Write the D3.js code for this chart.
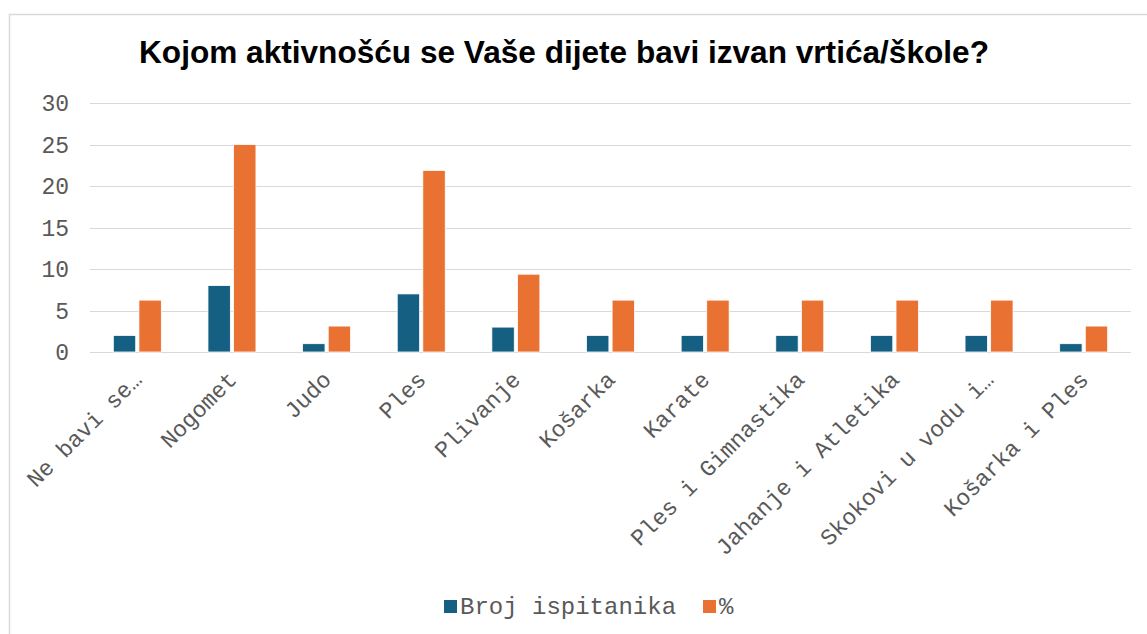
<!DOCTYPE html>
<html>
<head>
<meta charset="utf-8">
<script src="https://cdn.jsdelivr.net/npm/d3@7"></script>
<style>
  body { margin: 0; background: #fff; }
  svg { display: block; }
</style>
</head>
<body>
<div id="wrapper"></div>
<script>
const categories = ["Ne bavi se…", "Nogomet", "Judo", "Ples", "Plivanje", "Košarka", "Karate",
  "Ples i Gimnastika", "Jahanje i Atletika", "Skokovi u vodu i…", "Košarka i Ples"];
const brojIspitanika = [2, 8, 1, 7, 3, 2, 2, 2, 2, 2, 1];
const postotak = [6.25, 25, 3.125, 21.875, 9.375, 6.25, 6.25, 6.25, 6.25, 6.25, 3.125];
const seriesNames = ["Broj ispitanika", "%"];
const yTicks = [0, 5, 10, 15, 20, 25, 30];

function drawChart() {
  const width = 1147, height = 634;
  const colors = ["#156082", "#E97132"];
  const mono = "'Liberation Mono', 'Courier New', monospace";

  const svg = d3.select("#wrapper").append("svg")
    .attr("width", width)
    .attr("height", height);

  // chart frame
  svg.append("rect")
    .attr("x", 9.5).attr("y", 14.5)
    .attr("width", width + 20).attr("height", height + 20)
    .attr("fill", "#fff")
    .attr("stroke", "#d9d9d9")
    .attr("stroke-width", 1.5);

  svg.append("text")
    .attr("x", 564).attr("y", 63)
    .attr("text-anchor", "middle")
    .style("font-family", "'Liberation Sans', Arial, sans-serif")
    .style("font-weight", "bold")
    .style("font-size", "31.6px")
    .attr("fill", "#000")
    .text("Kojom aktivnošću se Vaše dijete bavi izvan vrtića/škole?");

  const plot = { left: 90, right: 1131, top: 103, bottom: 352 };

  const x = d3.scaleBand()
    .domain(categories)
    .range([plot.left, plot.right]);

  const y = d3.scaleLinear()
    .domain([0, 30])
    .range([plot.bottom, plot.top]);

  const xSub = d3.scaleBand()
    .domain(seriesNames)
    .range([x.bandwidth() / 2 - 24, x.bandwidth() / 2 + 24])
    .paddingInner(0.125);

  // gridlines
  svg.append("g")
    .selectAll("line")
    .data(yTicks)
    .join("line")
      .attr("x1", plot.left).attr("x2", plot.right)
      .attr("y1", d => Math.round(y(d)) + 0.5)
      .attr("y2", d => Math.round(y(d)) + 0.5)
      .attr("stroke", "#d9d9d9")
      .attr("stroke-width", 1.2);

  // y labels
  svg.append("g")
    .selectAll("text")
    .data(yTicks)
    .join("text")
      .attr("x", 69)
      .attr("y", d => y(d) + 8)
      .attr("text-anchor", "end")
      .style("font-family", mono)
      .style("font-size", "23px")
      .attr("fill", "#595959")
      .text(d => d);

  const rows = categories.map((c, i) => ({ cat: c, vals: [brojIspitanika[i], postotak[i]] }));

  const groups = svg.append("g")
    .selectAll("g")
    .data(rows)
    .join("g")
      .attr("transform", d => `translate(${x(d.cat)},0)`);

  groups.selectAll("rect")
    .data(d => d.vals.map((v, k) => ({ key: seriesNames[k], v, k })))
    .join("rect")
      .attr("x", d => xSub(d.key))
      .attr("y", d => y(d.v))
      .attr("width", xSub.bandwidth())
      .attr("height", d => y(0) - y(d.v))
      .attr("fill", d => colors[d.k])
      .attr("stroke", "#fff")
      .attr("stroke-width", 0.8);

  // x labels
  svg.append("g")
    .selectAll("text")
    .data(categories)
    .join("text")
      .attr("transform", d => `translate(${x(d) + x.bandwidth() / 2 + 6},${plot.bottom + 29}) rotate(-45)`)
      .attr("text-anchor", "end")
      .style("font-family", mono)
      .style("font-size", "23px")
      .attr("fill", "#595959")
      .text(d => d);

  // legend
  const legend = svg.append("g").attr("transform", "translate(444,600)");
  const legendX = [0, 259];
  seriesNames.forEach((name, k) => {
    legend.append("rect")
      .attr("x", legendX[k]).attr("y", 0)
      .attr("width", 13).attr("height", 13)
      .attr("fill", colors[k]);
    legend.append("text")
      .attr("x", legendX[k] + 16).attr("y", 14)
      .style("font-family", mono)
      .style("font-size", "24px")
      .attr("fill", "#595959")
      .text(name);
  });
}

drawChart();
</script>
</body>
</html>
